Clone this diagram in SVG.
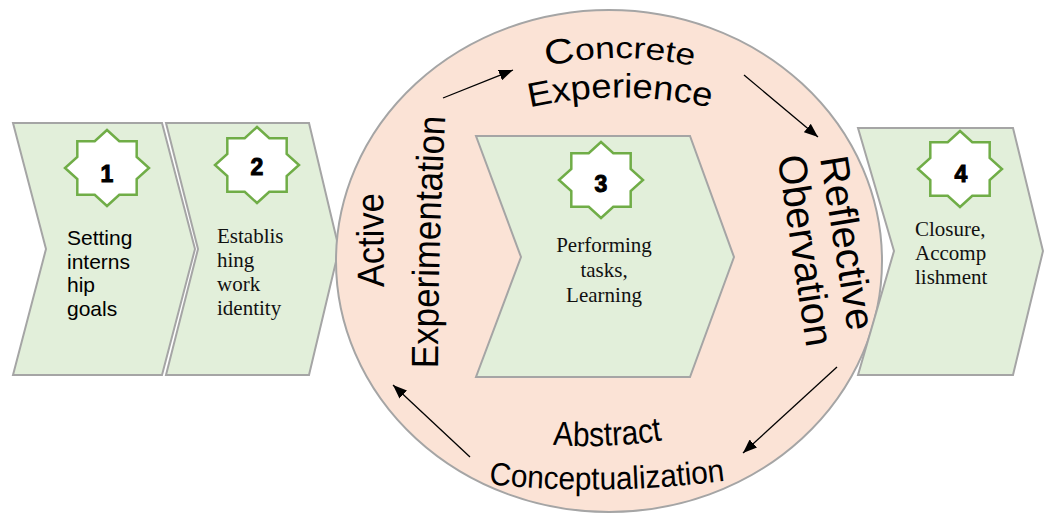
<svg xmlns="http://www.w3.org/2000/svg" xmlns:xlink="http://www.w3.org/1999/xlink" width="1044" height="517" viewBox="0 0 1044 517">
<style>
.chev{fill:#E2EFDA;stroke:#A5A5A5;stroke-width:2;stroke-linejoin:miter}
.star{fill:#FFFFFF;stroke:#70AD47;stroke-width:2.5;stroke-linejoin:miter}
.num{font-family:"Liberation Sans",Arial,sans-serif;font-weight:bold;font-size:23px;fill:#000;stroke:#000;stroke-width:1;text-anchor:middle}
.sans{font-family:"Liberation Sans",Arial,sans-serif;font-size:21px;fill:#000}
.serif{font-family:"Liberation Serif","Times New Roman",serif;font-size:21px;fill:#111}
.big{font-family:"Liberation Sans",Arial,sans-serif;fill:#000}
.conn{stroke:#000;stroke-width:1.3;fill:none}
</style>
<defs>
<path id="star8" d="M0,-38 L12.3,-26.86 L29.7,-26.87 L29.68,-11.12 L42,0 L29.68,11.12 L29.7,26.87 L12.3,26.86 L0,38 L-12.3,26.86 L-29.7,26.87 L-29.68,11.12 L-42,0 L-29.68,-11.12 L-29.7,-26.87 L-12.3,-26.86 Z"/>
<marker id="ah" viewBox="0 0 14 11" refX="14" refY="5.5" markerWidth="14" markerHeight="11" markerUnits="userSpaceOnUse" orient="auto">
<path d="M0,0 L14,5.5 L0,11 Z" fill="#000"/>
</marker>
<path id="pConcrete" d="M528 71 Q620 45 712 71"/>
<path id="pExperience" d="M515 111 Q620 84 725 111"/>
<path id="pReflective" d="M818 145 L850 345"/>
<path id="pObservation" d="M775 140 L809 365"/>
<path id="pAbstract" d="M545 444 Q607 450 670 439"/>
<path id="pConcept" d="M478 483 Q606 498 736 479"/>
<path id="pActive" d="M384 300 L383 180"/>
<path id="pExperiment" d="M438 380 Q438 240 446 105"/>
</defs>

<g id="step1">
<polygon class="chev" points="13,123 162,123 195,249 162,375 13,375 46,249"/>
<use href="#star8" class="star" transform="translate(107,168)"/>
<text class="num" x="107" y="182">1</text>
<text class="sans" x="67" y="245">Setting</text>
<text class="sans" x="67" y="268.5">interns</text>
<text class="sans" x="67" y="292">hip</text>
<text class="sans" x="67" y="315.5">goals</text>
</g>

<g id="step2">
<polygon class="chev" points="166,123 309,123 339,249 309,375 166,375 198,249"/>
<use href="#star8" class="star" transform="translate(257,165)"/>
<text class="num" x="257" y="175">2</text>
<text class="serif" x="217" y="243">Establis</text>
<text class="serif" x="217" y="267">hing</text>
<text class="serif" x="217" y="291">work</text>
<text class="serif" x="217" y="315">identity</text>
</g>

<g id="cycle">
<ellipse cx="609" cy="261" rx="273" ry="251" fill="#FBE3D6" stroke="#A5A5A5" stroke-width="2"/>
</g>

<g id="step3">
<polygon class="chev" points="476,136 690,136 734,257 690,377 476,377 521,257"/>
<use href="#star8" class="star" transform="translate(601,180)"/>
<text class="num" x="601" y="192">3</text>
<text class="serif" x="604" y="252" text-anchor="middle">Performing</text>
<text class="serif" x="604" y="277" text-anchor="middle">tasks,</text>
<text class="serif" x="604" y="302" text-anchor="middle">Learning</text>
</g>

<g id="step4">
<polygon class="chev" points="858,128 1013,128 1043,251 1013,375 858,375 894,251"/>
<use href="#star8" class="star" transform="translate(960,169)"/>
<text class="num" x="961" y="182">4</text>
<text class="serif" x="915" y="236">Closure,</text>
<text class="serif" x="915" y="260">Accomp</text>
<text class="serif" x="915" y="283.5">lishment</text>
</g>

<g id="label-concrete">
<text class="big" font-size="30"><textPath href="#pConcrete" startOffset="50%" text-anchor="middle" textLength="148" lengthAdjust="spacingAndGlyphs"><tspan font-size="35">C</tspan>oncrete</textPath></text>
<text class="big" font-size="34"><textPath href="#pExperience" startOffset="50%" text-anchor="middle" textLength="182" lengthAdjust="spacingAndGlyphs">Experience</textPath></text>
</g>

<g id="label-reflective">
<text class="big" font-size="40"><textPath href="#pReflective" startOffset="50%" text-anchor="middle" textLength="176" lengthAdjust="spacingAndGlyphs">Reflective</textPath></text>
<text class="big" font-size="40"><textPath href="#pObservation" startOffset="50%" text-anchor="middle" textLength="193" lengthAdjust="spacingAndGlyphs">Obervation</textPath></text>
</g>

<g id="label-abstract">
<text class="big" font-size="34"><textPath href="#pAbstract" startOffset="50%" text-anchor="middle" textLength="110" lengthAdjust="spacingAndGlyphs">Abstract</textPath></text>
<text class="big" font-size="32"><textPath href="#pConcept" startOffset="50%" text-anchor="middle" textLength="237" lengthAdjust="spacingAndGlyphs">Conceptualization</textPath></text>
</g>

<g id="label-active">
<text class="big" font-size="38"><textPath href="#pActive" startOffset="50%" text-anchor="middle" textLength="94" lengthAdjust="spacingAndGlyphs">Active</textPath></text>
<text class="big" font-size="38"><textPath href="#pExperiment" startOffset="50%" text-anchor="middle" textLength="252" lengthAdjust="spacingAndGlyphs">Experimentation</textPath></text>
</g>

<g id="connectors">
<line class="conn" x1="443" y1="98" x2="513" y2="70" marker-end="url(#ah)"/>
<line class="conn" x1="744" y1="75" x2="818" y2="137" marker-end="url(#ah)"/>
<line class="conn" x1="837" y1="367" x2="743" y2="453" marker-end="url(#ah)"/>
<line class="conn" x1="470" y1="457" x2="393" y2="385" marker-end="url(#ah)"/>
</g>
</svg>
